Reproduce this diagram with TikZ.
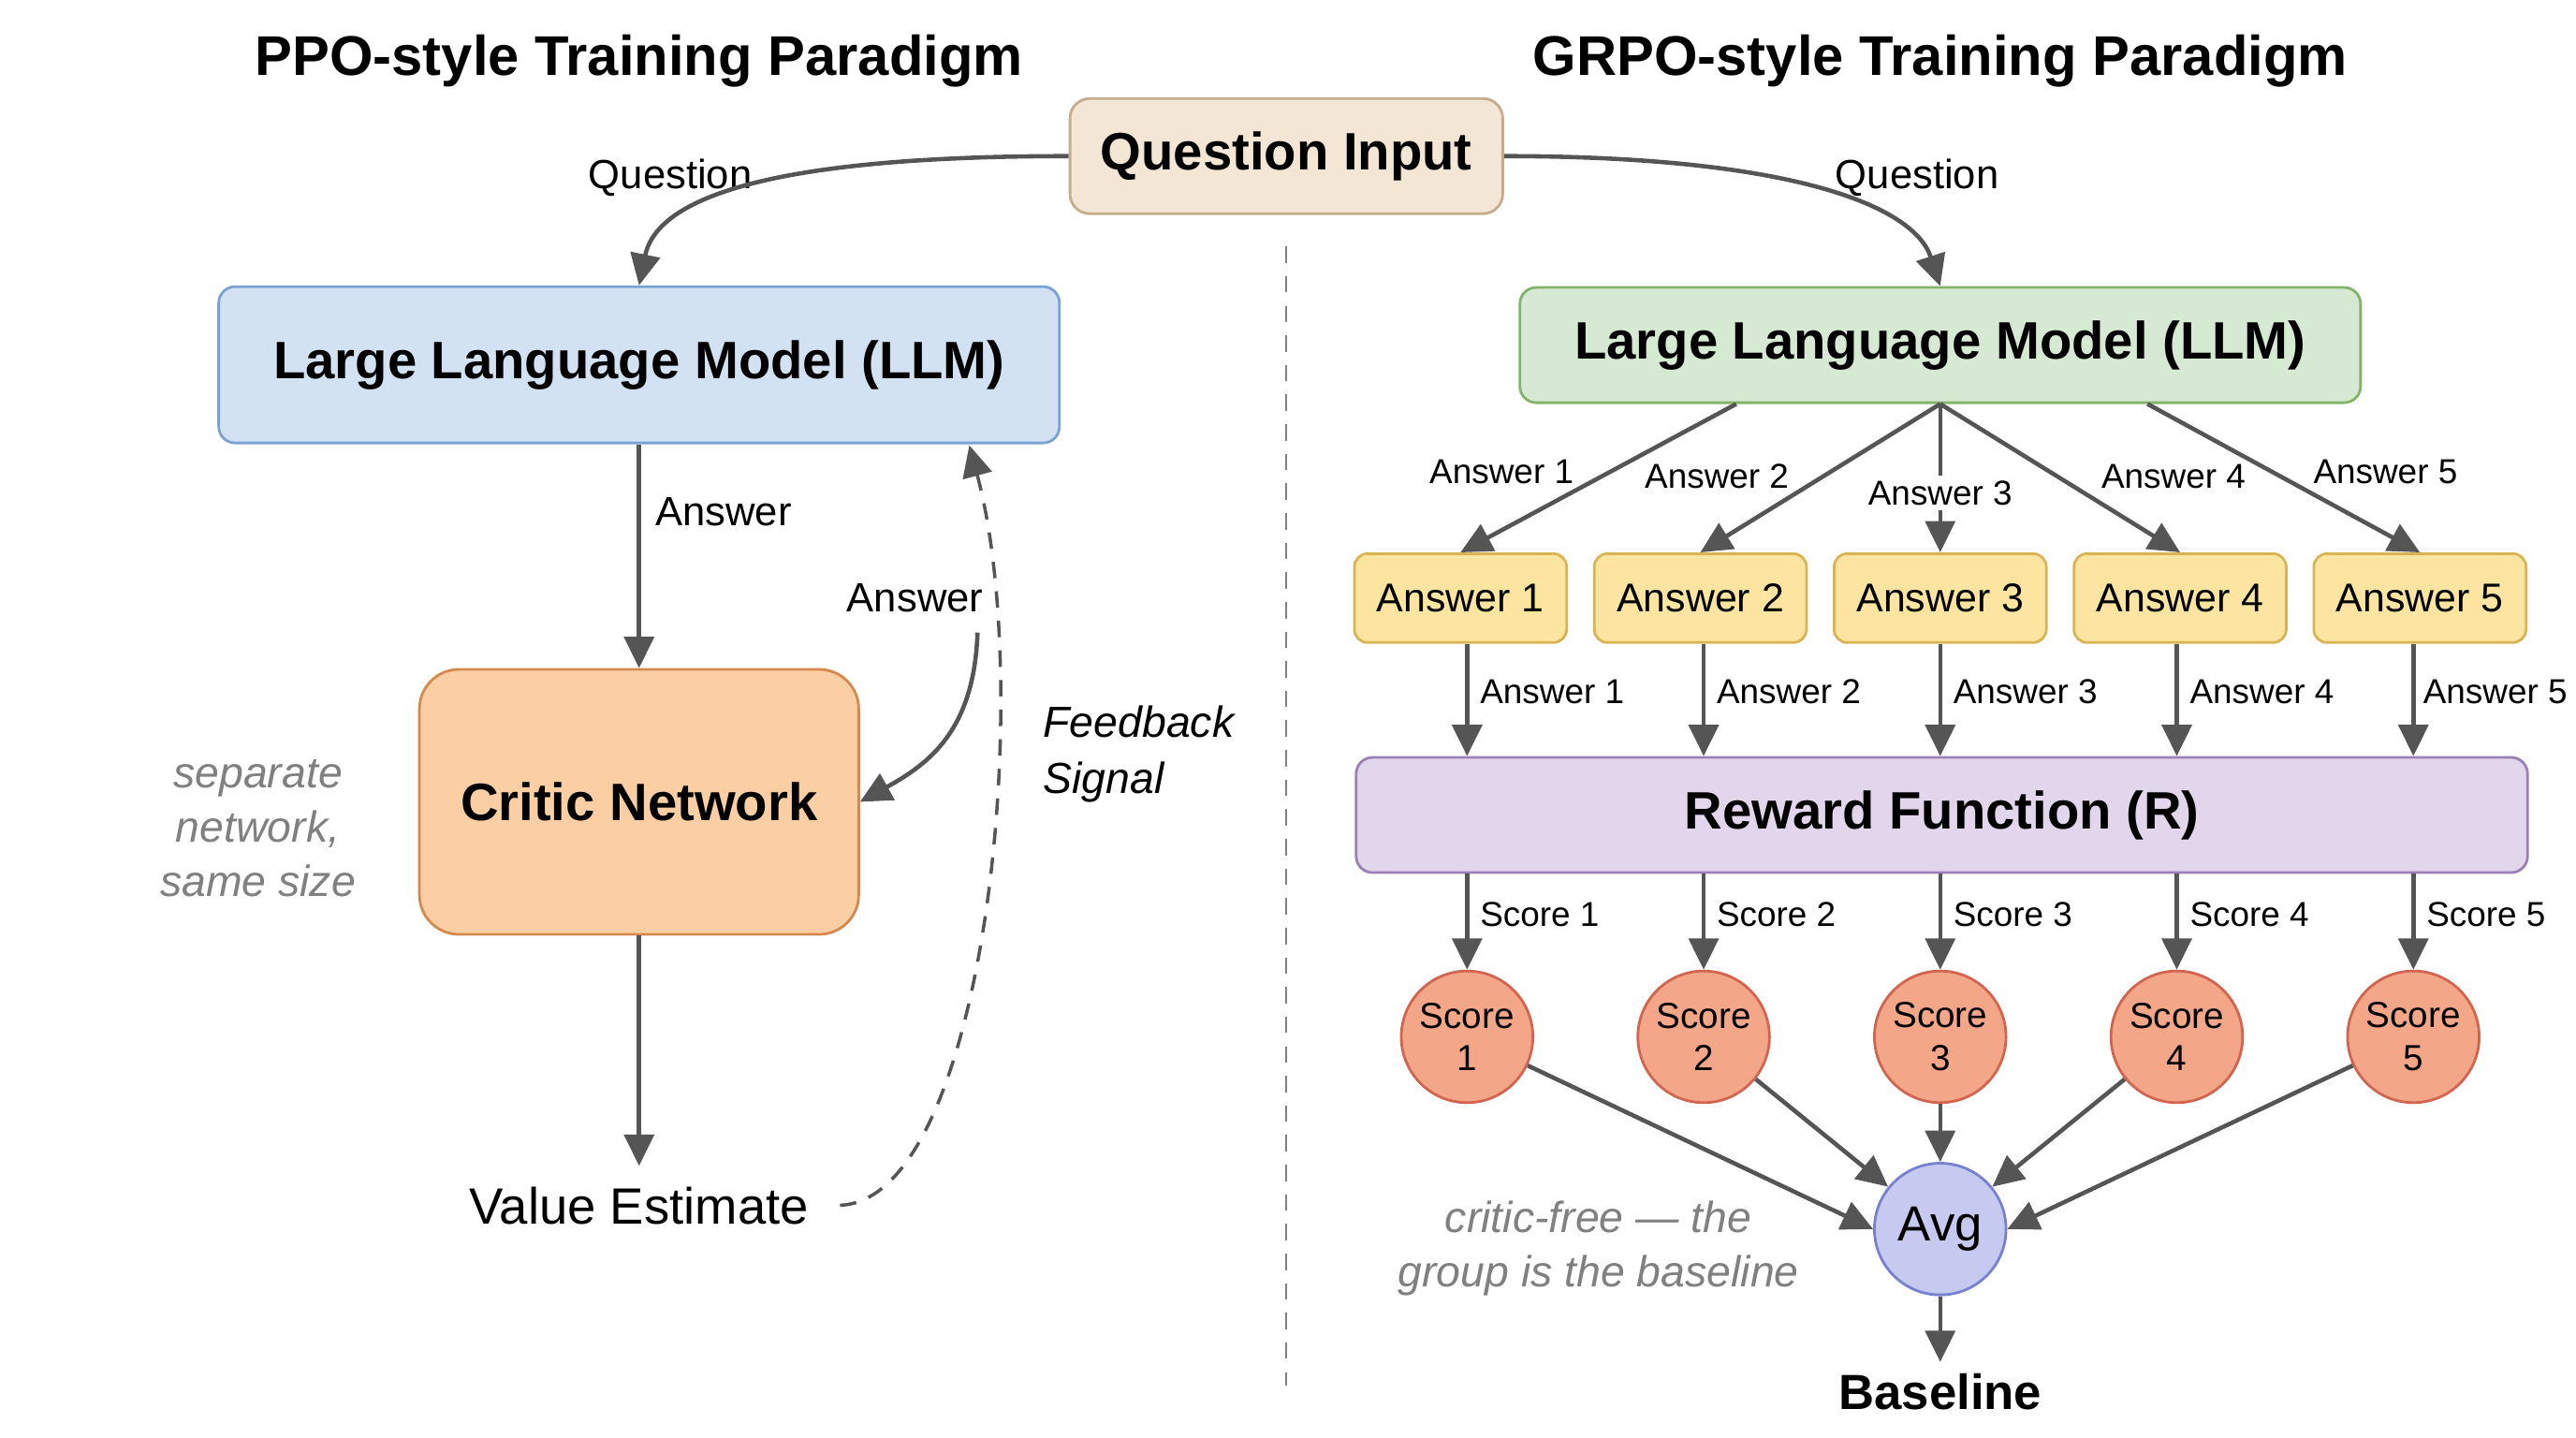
\documentclass[tikz,border=0pt]{standalone}
\usepackage{fontspec}
\setmainfont{Liberation Sans}
\usepackage{xcolor}
\usetikzlibrary{positioning,arrows.meta}
\definecolor{inkgrey}{HTML}{555555}
\definecolor{notegrey}{HTML}{808080}
\definecolor{qfill}{HTML}{F3E6D5}
\definecolor{qline}{HTML}{C4AE8C}
\definecolor{bluefill}{HTML}{D3E2F2}
\definecolor{blueline}{HTML}{7AA3D3}
\definecolor{greenfill}{HTML}{D6E9D2}
\definecolor{greenline}{HTML}{84B36A}
\definecolor{critfill}{HTML}{FBCFA3}
\definecolor{critline}{HTML}{D48A4E}
\definecolor{ansfill}{HTML}{FDE5A1}
\definecolor{ansline}{HTML}{D8B455}
\definecolor{rewfill}{HTML}{E1D6EB}
\definecolor{rewline}{HTML}{9B80B6}
\definecolor{scorefill}{HTML}{F4A689}
\definecolor{scoreline}{HTML}{D2654F}
\definecolor{avgfill}{HTML}{C6CAF0}
\definecolor{avgline}{HTML}{7880D0}

\begin{document}
\begin{tikzpicture}[x=0.017551cm, y=-0.017551cm, every node/.style={align=center,text=black},
  flow/.style={-{Triangle[length=9.5pt,width=9pt]},draw=inkgrey,line width=1.3pt},
  fback/.style={flow,dash pattern=on 5pt off 4pt,line width=1pt},
  heading/.style={font=\fontsize{17}{20}\selectfont\bfseries},
  bigbox/.style={rounded corners=5pt,line width=.8pt,font=\fontsize{16}{19}\selectfont\bfseries},
  ansbox/.style={fill=ansfill,draw=ansline,rounded corners=4pt,line width=.8pt,minimum width=64.5pt,minimum height=27pt,font=\fontsize{12.2}{14}\selectfont},
  scorenode/.style={circle,fill=scorefill,draw=scoreline,line width=.8pt,minimum size=40pt,inner sep=0pt,font=\fontsize{11}{13}\selectfont},
  lbl/.style={font=\fontsize{10.5}{13}\selectfont},
  qlbl/.style={font=\fontsize{12.4}{15}\selectfont},
  note/.style={font=\fontsize{13.2}{16.5}\selectfont\itshape,text=notegrey}]
\useasboundingbox (0,0) rectangle (1568,875);
\fill[white] (0,0) rectangle (1568,875);

% titles and shared input
\node[heading] (ppo) at (389,37) {PPO-style Training Paradigm};
\node[heading] (grpo) at (1181,37) {GRPO-style Training Paradigm};
\node[bigbox,fill=qfill,draw=qline,minimum width=131.5pt,minimum height=35pt,rounded corners=6pt] (qin) at (783,95) {Question Input};
\draw[notegrey,line width=.6pt,dash pattern=on 5pt off 4pt] (783,150) -- (783,843);

% PPO side
\node[bigbox,fill=bluefill,draw=blueline,minimum width=255.5pt,minimum height=47.5pt] (llmL) at (389,222) {Large Language Model (LLM)};
\node[bigbox,fill=critfill,draw=critline,minimum width=133.5pt,minimum height=80.5pt,rounded corners=12pt] (critic) at (389,488) {Critic Network};
\node[font=\fontsize{15.5}{18}\selectfont] (value) at (389,734) {Value Estimate};
\node[note] (sepnote) at (157,504) {separate\\network,\\same size};
\node[font=\fontsize{13.2}{17}\selectfont\itshape,anchor=west,align=left] (fbnote) at (628,459) {Feedback\\Signal};
\node[qlbl] (qlblL) at (408,108) {Question};
\node[qlbl] (anslbl) at (557,364) {Answer};
\coordinate (ansin) at (595,385);
\coordinate (fbend) at (590,271);
\draw[flow] (qin.west) .. controls (470,95) and (400,120) .. (llmL.north);
\draw[flow] (llmL) -- node[qlbl,right,pos=.3,xshift=1pt] {Answer} (critic);
\draw[flow] (ansin) .. controls (593,445) and (565,465) .. (critic.east);
\draw[flow,shorten >=3pt] (critic) -- (value);
\draw[fback,shorten <=6pt] (value.east) .. controls (600,730) and (630,420) .. (fbend);

% GRPO side
\node[bigbox,fill=greenfill,draw=greenline,minimum width=255.5pt,minimum height=35pt] (llmR) at (1181,210) {Large Language Model (LLM)};
\node[qlbl] (qlblR) at (1167,108) {Question};
\draw[flow] (qin.east) .. controls (1090,95) and (1165,125) .. (llmR.north);

\node[ansbox] (a1) at (889,364) {Answer 1};
\node[ansbox] (a2) at (1035,364) {Answer 2};
\node[ansbox] (a3) at (1181,364) {Answer 3};
\node[ansbox] (a4) at (1327,364) {Answer 4};
\node[ansbox] (a5) at (1473,364) {Answer 5};
\node[bigbox,fill=rewfill,draw=rewline,minimum width=356pt,minimum height=35pt] (reward) at (1182,496) {Reward Function (R)};
\node[scorenode] (s1) at (893,631) {Score\\1};
\node[scorenode] (s2) at (1037,631) {Score\\2};
\node[scorenode] (s3) at (1181,631) {Score\\3};
\node[scorenode] (s4) at (1325,631) {Score\\4};
\node[scorenode] (s5) at (1469,631) {Score\\5};

\draw[flow] ([xshift=-62pt]llmR.south) -- (a1.north);
\draw[flow] (llmR.south) -- (a2.north);
\draw[flow] (llmR.south) -- node[lbl,fill=white,inner sep=1.5pt,pos=.6] {Answer 3} (a3.north);
\draw[flow] (llmR.south) -- (a4.north);
\draw[flow] ([xshift=63pt]llmR.south) -- (a5.north);
\node[lbl] (l1) at (914,287) {Answer 1};
\node[lbl] (l2) at (1045,290) {Answer 2};
\node[lbl] (l4) at (1323,290) {Answer 4};
\node[lbl] (l5) at (1452,287) {Answer 5};

\draw[flow] (a1.south -| s1) -- node[lbl,right,pos=.43] {Answer 1} (reward.north -| s1);
\draw[flow] (a2.south -| s2) -- node[lbl,right,pos=.43] {Answer 2} (reward.north -| s2);
\draw[flow] (a3.south -| s3) -- node[lbl,right,pos=.43] {Answer 3} (reward.north -| s3);
\draw[flow] (a4.south -| s4) -- node[lbl,right,pos=.43] {Answer 4} (reward.north -| s4);
\draw[flow] (a5.south -| s5) -- node[lbl,right,pos=.43,xshift=-1pt] {Answer 5} (reward.north -| s5);

\draw[flow] (s1.north |- reward.south) -- node[lbl,right,pos=.42] {Score 1} (s1.north);
\draw[flow] (s2.north |- reward.south) -- node[lbl,right,pos=.42] {Score 2} (s2.north);
\draw[flow] (s3.north |- reward.south) -- node[lbl,right,pos=.42] {Score 3} (s3.north);
\draw[flow] (s4.north |- reward.south) -- node[lbl,right,pos=.42] {Score 4} (s4.north);
\draw[flow] (s5.north |- reward.south) -- node[lbl,right,pos=.42] {Score 5} (s5.north);

\node[scorenode,fill=avgfill,draw=avgline,font=\fontsize{15}{18}\selectfont] (avg) at (1181,748) {Avg};
\node[font=\fontsize{15}{18}\selectfont\bfseries] (base) at (1181,847) {Baseline};
\node[note] (cfnote) at (973,760) {critic-free — the\\group is the baseline};
\draw[flow] (s1) -- (avg.west);
\draw[flow] (s2) -- (avg);
\draw[flow] (s3) -- (avg);
\draw[flow] (s4) -- (avg);
\draw[flow] (s5) -- (avg.east);
\draw[flow] (avg) -- (base);
\end{tikzpicture}
\end{document}
